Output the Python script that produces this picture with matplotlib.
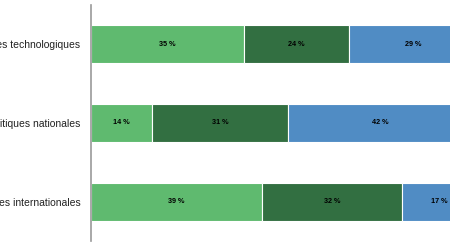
import numpy as np
import matplotlib
matplotlib.use('Agg')
import matplotlib.pyplot as plt

matplotlib.rcParams['font.family'] = 'Liberation Sans'

categories = ['Progrès technologiques', 'Politiques nationales', 'Politiques internationales']
seg1 = [35, 14, 39]
seg2 = [24, 31, 32]
seg3 = [29, 42, 17]
colors = ['#5fba6f', '#326f41', '#508cc4']

fig = plt.figure(figsize=(4.5, 2.5), dpi=100)
ax = fig.add_axes([91/450, 9/250, 1 - 91/450, 236/250])

y = np.arange(len(categories))
left = np.zeros(len(categories))
for vals, c in zip([seg1, seg2, seg3], colors):
	vals = np.array(vals, dtype=float)
	bars = ax.barh(y, vals, left=left, height=0.48, color=c, edgecolor='white', linewidth=0.8)
	for b, v in zip(bars, vals):
		ax.text(b.get_x() + b.get_width() / 2, b.get_y() + b.get_height() / 2, '%d %%' % v,
			ha='center', va='center', fontsize=5.2, fontweight='bold', color='black')
	left += vals

ax.set_xlim(0, 82)
ax.set_ylim(2.5, -0.5)
ax.set_yticks(y)
ax.set_yticklabels(categories, fontsize=7.5, color='#222222')
ax.tick_params(axis='y', length=0, pad=7.5)
ax.set_xticks([])
for s in ['top', 'right', 'bottom']:
	ax.spines[s].set_visible(False)
ax.spines['left'].set_color('#999999')
ax.spines['left'].set_linewidth(1.2)

fig.savefig('out.png', dpi=100)
